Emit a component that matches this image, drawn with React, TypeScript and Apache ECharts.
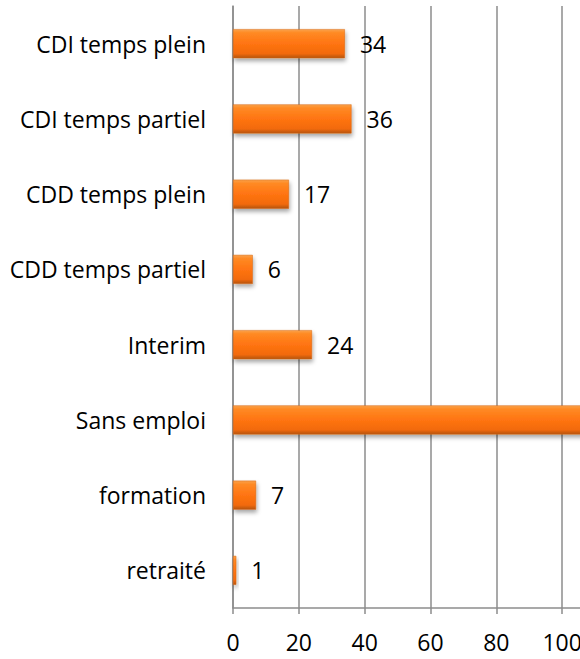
import React, { useEffect, useRef } from "react";
import * as echarts from "echarts";

const categories = [
  "CDI temps plein",
  "CDI temps partiel",
  "CDD temps plein",
  "CDD temps partiel",
  "Interim",
  "Sans emploi",
  "formation",
  "retraité",
];
const values = [34, 36, 17, 6, 24, 113, 7, 1];
const xTicks = [0, 20, 40, 60, 80, 100, 120];

export default function App() {
  const ref = useRef<HTMLDivElement>(null);
  useEffect(() => {
    if (!ref.current) return;
    const chart = echarts.init(ref.current, undefined, { renderer: "svg" });
    const font = "'Open Sans', sans-serif";
    chart.setOption({
      animation: false,
      grid: { left: 233, top: 6, width: 395, height: 602 },
      xAxis: {
        type: "value",
        min: xTicks[0],
        max: xTicks[xTicks.length - 1],
        interval: 20,
        axisLine: { show: true, lineStyle: { color: "#8c8c8c", width: 1.5 } },
        axisTick: { show: true, length: 6, lineStyle: { color: "#8c8c8c", width: 1.5 } },
        splitLine: { show: true, lineStyle: { color: "#8c8c8c", width: 1.5 } },
        axisLabel: { color: "#000", fontSize: 23, fontFamily: font, margin: 22 },
      },
      yAxis: {
        type: "category",
        inverse: true,
        data: categories,
        axisLine: { show: true, lineStyle: { color: "#8c8c8c", width: 1.5 } },
        axisTick: { show: false },
        axisLabel: { color: "#000", fontSize: 23, fontFamily: font, margin: 27 },
      },
      series: [
        {
          type: "bar",
          data: values,
          barWidth: 29,
          label: {
            show: true,
            position: "right",
            distance: 15,
            color: "#000",
            fontSize: 23,
            fontFamily: font,
          },
          itemStyle: {
            color: new echarts.graphic.LinearGradient(0, 0, 0, 1, [
              { offset: 0, color: "#f9a24c" },
              { offset: 0.12, color: "#ff8a24" },
              { offset: 0.5, color: "#ff7412" },
              { offset: 0.85, color: "#f26a0c" },
              { offset: 1, color: "#b5540f" },
            ]),
            borderColor: "#d9640c",
            borderWidth: 0.5,
            shadowColor: "rgba(0,0,0,0.35)",
            shadowBlur: 4,
            shadowOffsetY: 3,
            shadowOffsetX: 1,
          },
        },
      ],
    });
    return () => chart.dispose();
  }, []);
  return (
    <div
      style={{
        position: "absolute",
        left: 0,
        top: 0,
        width: 580,
        height: 659,
        overflow: "hidden",
        background: "#fff",
      }}
    >
      <div ref={ref} style={{ width: 680, height: 659 }} />
    </div>
  );
}
